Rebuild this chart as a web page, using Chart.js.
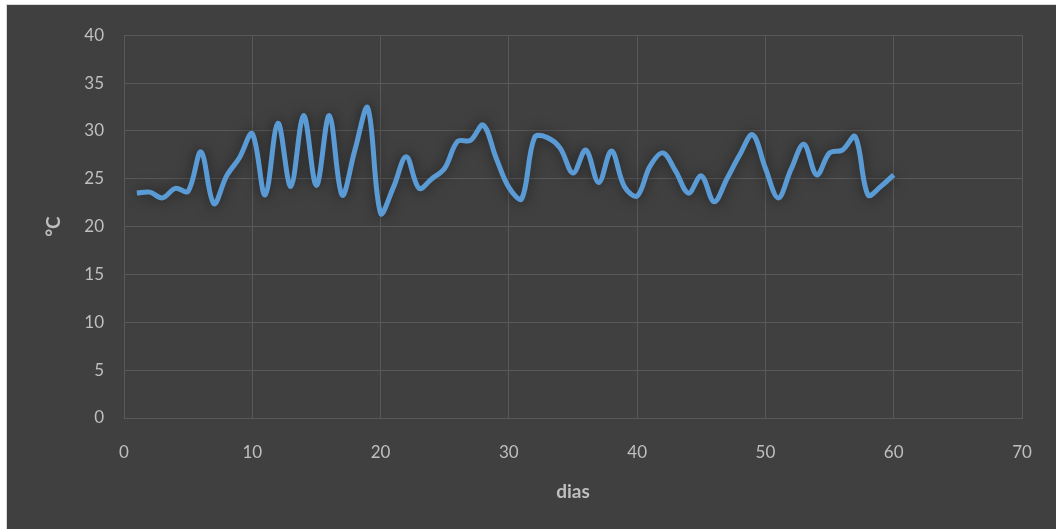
<!DOCTYPE html>
<html>
<head>
<meta charset="utf-8">
<script src="https://cdn.jsdelivr.net/npm/chart.js@4/dist/chart.umd.min.js"></script>
<style>
  html, body { margin: 0; padding: 0; background: #ffffff; }
  #frame {
    position: absolute; left: 6px; top: 4px;
    width: 1049px; height: 524px;
    background: #404040; border: 1px solid #d9d9d9;
  }
  canvas { display: block; }
</style>
</head>
<body>
<div id="frame"><canvas id="c" width="1049" height="524"></canvas></div>
<script>
// Daily temperature readings (°C) for days 1..60
const days = Array.from({ length: 60 }, (_, i) => i + 1);
const temperatures = [
  23.5, 23.6, 23.0, 24.0, 23.7, 27.8, 22.4, 25.3, 27.2, 29.7,
  23.3, 30.8, 24.2, 31.6, 24.3, 31.6, 23.3, 28.0, 32.4, 21.4,
  24.1, 27.3, 24.0, 25.0, 26.1, 28.9, 29.0, 30.6, 27.2, 24.1,
  22.9, 29.3, 29.3, 28.2, 25.6, 28.0, 24.6, 27.9, 24.2, 23.2,
  26.3, 27.7, 25.8, 23.5, 25.3, 22.6, 25.0, 27.5, 29.6, 26.1,
  23.0, 26.0, 28.6, 25.4, 27.7, 28.0, 29.4, 23.3, 24.2, 25.4
];
const xTicks = [0, 10, 20, 30, 40, 50, 60, 70];
const yTicks = [0, 5, 10, 15, 20, 25, 30, 35, 40];

const points = days.map((d, i) => ({ x: d, y: temperatures[i] }));

// soft dark glow under the series line
const lineGlow = {
  id: 'lineGlow',
  beforeDatasetDraw(chart) {
    const ctx = chart.ctx;
    ctx.save();
    ctx.shadowColor = 'rgba(0,0,0,0.55)';
    ctx.shadowBlur = 14;
    ctx.shadowOffsetX = 0;
    ctx.shadowOffsetY = 0;
  },
  afterDatasetDraw(chart) {
    chart.ctx.restore();
  }
};

const tickFont = { family: 'Lato, "Open Sans", sans-serif', size: 17 };
const titleFont = { family: 'Lato, "Open Sans", sans-serif', size: 19, weight: 'bold' };

new Chart(document.getElementById('c'), {
  type: 'scatter',
  data: {
    datasets: [{
      data: points,
      showLine: true,
      borderColor: '#5b9bd5',
      borderWidth: 5,
      pointRadius: 0,
      pointHoverRadius: 0,
      tension: 0.35,
      fill: false
    }]
  },
  options: {
    responsive: false,
    animation: false,
    events: [],
    layout: { padding: { left: 0, right: 34, top: 28, bottom: 0 } },
    plugins: { legend: { display: false }, tooltip: { enabled: false } },
    scales: {
      x: {
        type: 'linear',
        min: 0, max: 70,
        afterBuildTicks(scale) { scale.ticks = xTicks.map(v => ({ value: v })); },
        afterFit(scale) { scale.height = 111; },
        grid: { color: '#595959', lineWidth: 1, drawTicks: false },
        border: { color: '#595959' },
        ticks: { color: '#bfbfbf', font: tickFont, padding: 24, maxRotation: 0 },
        title: { display: true, text: 'dias', color: '#bfbfbf', font: titleFont, padding: { top: 0, bottom: 26 } }
      },
      y: {
        type: 'linear',
        min: 0, max: 40,
        afterBuildTicks(scale) { scale.ticks = yTicks.map(v => ({ value: v })); },
        afterFit(scale) { scale.width = 117; },
        grid: { color: '#595959', lineWidth: 1, drawTicks: false },
        border: { color: '#595959' },
        ticks: { color: '#bfbfbf', font: tickFont, padding: 20 },
        title: { display: true, text: '°C', color: '#bfbfbf', font: titleFont, padding: { top: 35, bottom: 0 } }
      }
    }
  },
  plugins: [lineGlow]
});
</script>
</body>
</html>
